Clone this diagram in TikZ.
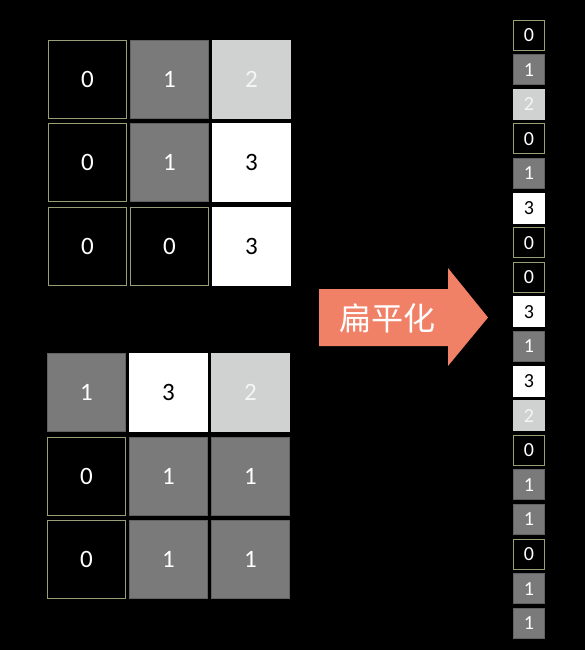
\documentclass[tikz,border=0pt]{standalone}
\usepackage{fontspec}
\setmainfont{Carlito}
\newfontfamily\cjk{Noto Sans CJK SC}
\usetikzlibrary{positioning}
\definecolor{cellgray}{RGB}{122,122,122}
\definecolor{celllight}{RGB}{208,209,209}
\definecolor{cellrim}{RGB}{150,160,118}
\definecolor{arrowred}{RGB}{240,128,102}
\tikzset{
  cell/.style={draw, line width=0.9pt, minimum width=78pt, minimum height=78pt,
    inner sep=0pt, font=\fontsize{25}{25}\selectfont},
  flat/.style={draw, line width=0.9pt, minimum width=31pt, minimum height=30pt,
    inner sep=0pt, font=\fontsize{20}{20}\selectfont},
  v0/.style={fill=black, draw=cellrim, text=white},
  v1/.style={fill=cellgray, draw=cellgray!80!black, text=white},
  v2/.style={fill=celllight, draw=celllight, text=white!92!gray},
  v3/.style={fill=white, draw=white, text=black}
}
\begin{document}
\begin{tikzpicture}[x=1pt, y=-1pt]
  \fill[black] (0,0) rectangle (585,650);
  \useasboundingbox (0,0) rectangle (585,650);

  % upper grid
  \node[cell, v0] (a11) at (87.5,79.5) {0};
  \node[cell, v1] (a12) at (169.5,79.5) {1};
  \node[cell, v2] (a13) at (251.5,79.5) {2};
  \node[cell, v0] (a21) at (87.5,162.5) {0};
  \node[cell, v1] (a22) at (169.5,162.5) {1};
  \node[cell, v3] (a23) at (251.5,162.5) {3};
  \node[cell, v0] (a31) at (87.5,246.5) {0};
  \node[cell, v0] (a32) at (169.5,246.5) {0};
  \node[cell, v3] (a33) at (251.5,246.5) {3};

  % lower grid
  \node[cell, v1] (b11) at (86.5,392.5) {1};
  \node[cell, v3] (b12) at (168.5,392.5) {3};
  \node[cell, v2] (b13) at (250.5,392.5) {2};
  \node[cell, v0] (b21) at (86.5,476.5) {0};
  \node[cell, v1] (b22) at (168.5,476.5) {1};
  \node[cell, v1] (b23) at (250.5,476.5) {1};
  \node[cell, v0] (b31) at (86.5,559.5) {0};
  \node[cell, v1] (b32) at (168.5,559.5) {1};
  \node[cell, v1] (b33) at (250.5,559.5) {1};

  % flattening arrow
  \fill[arrowred] (319,289) -- (448,289) -- (448,268) -- (488,317.5)
    -- (448,366) -- (448,346) -- (319,346) -- cycle;
  \node[text=white, font=\cjk\fontsize{32}{32}\selectfont] (flatten) at (387,318) {扁平化};

  % flattened column
  \foreach \val [count=\i] in {0,1,2,0,1,3,0,0,3,1,3,2,0,1,1,0,1,1}
    \node[flat, v\val] (f\i) at (529,{35+(\i-1)*34.6}) {\val};
\end{tikzpicture}
\end{document}
